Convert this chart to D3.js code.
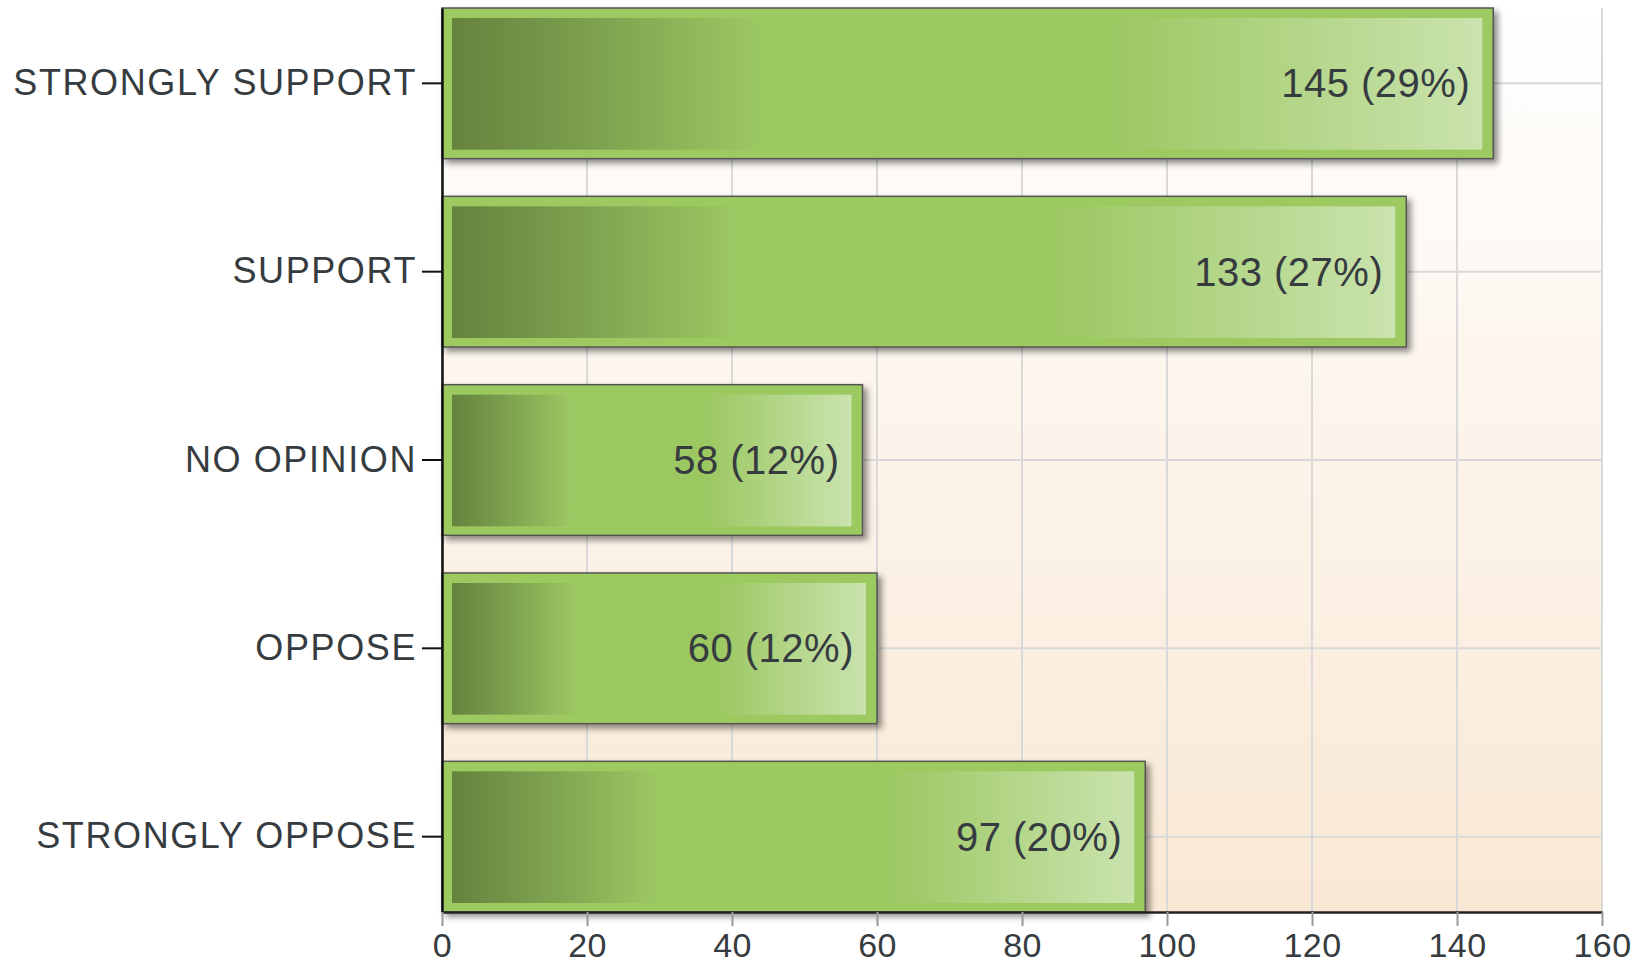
<!DOCTYPE html>
<html>
<head>
<meta charset="utf-8">
<script src="https://cdn.jsdelivr.net/npm/d3@7"></script>
<style>
  body { margin: 0; background: #fff; }
  text { font-family: "Liberation Sans", Arial, sans-serif; fill: #363b40; }
  .cat_label { font-size: 36px; letter-spacing: 1.6px; }
  .tick_label { font-size: 34px; letter-spacing: 0.4px; }
  .value_label { font-size: 40px; letter-spacing: 0.5px; }
</style>
</head>
<body>
<div id="chart"></div>
<script>
/////////////////////////////////////
///      DATA
/////////////////////////////////////
var categories = ["STRONGLY SUPPORT", "SUPPORT", "NO OPINION", "OPPOSE", "STRONGLY OPPOSE"];
var counts = [145, 133, 58, 60, 97];
var xTicks = [0, 20, 40, 60, 80, 100, 120, 140, 160];

var width = 1638, height = 972;
var margin = {top: 8, right: 36, bottom: 60, left: 442};
var total = d3.sum(counts);

/////////////////////////////////////
///      CHART
/////////////////////////////////////
var svg = d3.select("#chart").append("svg")
    .attr("width", width)
    .attr("height", height);

var x = d3.scaleLinear().domain([0, 160]).range([margin.left, width - margin.right]);
var y = d3.scaleBand().domain(categories)
    .range([margin.top, height - margin.bottom])
    .paddingInner(0.2).paddingOuter(0);

var defs = svg.append("defs");

var bg = defs.append("linearGradient").attr("id", "bg")
    .attr("x1", 0).attr("y1", 0).attr("x2", 0).attr("y2", 1);
bg.append("stop").attr("offset", "0%").attr("stop-color", "#ffffff");
bg.append("stop").attr("offset", "100%").attr("stop-color", "#f9e8d4");

var barGrad = defs.append("linearGradient").attr("id", "barGrad")
    .attr("x1", 0).attr("y1", 0).attr("x2", 1).attr("y2", 0);
barGrad.append("stop").attr("offset", "0%").attr("stop-color", "#65833d");
barGrad.append("stop").attr("offset", "12%").attr("stop-color", "#7a9d4d");
barGrad.append("stop").attr("offset", "30%").attr("stop-color", "#9cc862");
barGrad.append("stop").attr("offset", "64%").attr("stop-color", "#9cc862");
barGrad.append("stop").attr("offset", "100%").attr("stop-color", "#cae3ae");

var shadow = defs.append("filter").attr("id", "shadow")
    .attr("x", "-5%").attr("y", "-10%").attr("width", "115%").attr("height", "130%");
shadow.append("feDropShadow")
    .attr("dx", 4).attr("dy", 4).attr("stdDeviation", 3)
    .attr("flood-color", "#000").attr("flood-opacity", 0.45);

// plot background
svg.append("rect")
    .attr("x", x(0)).attr("y", margin.top)
    .attr("width", x(160) - x(0))
    .attr("height", y.range()[1] - margin.top)
    .attr("fill", "url(#bg)");

// grid lines
svg.append("g").selectAll("line").data(xTicks).enter().append("line")
    .attr("x1", d => x(d)).attr("x2", d => x(d))
    .attr("y1", margin.top).attr("y2", y.range()[1])
    .attr("stroke", "#d9d9d9").attr("stroke-width", 2);
svg.append("g").selectAll("line").data(categories).enter().append("line")
    .attr("x1", x(0)).attr("x2", x(160))
    .attr("y1", d => y(d) + y.bandwidth() / 2).attr("y2", d => y(d) + y.bandwidth() / 2)
    .attr("stroke", "#d9d9d9").attr("stroke-width", 2);

// bars
var bars = svg.append("g").selectAll("g").data(categories).enter().append("g");
bars.append("rect")
    .attr("x", x(0)).attr("y", d => y(d))
    .attr("width", (d, i) => x(counts[i]) - x(0))
    .attr("height", y.bandwidth())
    .attr("fill", "#9cca60")
    .attr("stroke", "#555").attr("stroke-width", 1.5)
    .attr("filter", "url(#shadow)");
bars.append("rect")
    .attr("x", x(0) + 10).attr("y", d => y(d) + 10)
    .attr("width", (d, i) => x(counts[i]) - x(0) - 21)
    .attr("height", y.bandwidth() - 19)
    .attr("fill", "url(#barGrad)");
bars.append("text")
    .attr("class", "value_label")
    .attr("x", (d, i) => x(counts[i]) - 23)
    .attr("y", d => y(d) + y.bandwidth() / 2)
    .attr("dy", "0.35em").attr("text-anchor", "end")
    .text((d, i) => counts[i] + " (" + Math.round(counts[i] / total * 100) + "%)");

// left axis
var yAxis = svg.append("g")
    .attr("transform", "translate(" + x(0) + ",0)")
    .call(d3.axisLeft(y).tickSize(20).tickSizeOuter(0).tickPadding(5));
yAxis.select(".domain").attr("stroke", "#111").attr("stroke-width", 2.5);
yAxis.selectAll(".tick line").attr("stroke", "#111").attr("stroke-width", 2);
yAxis.selectAll(".tick text").attr("class", "cat_label").attr("fill", null)
    .attr("font-family", null).attr("font-size", null);

// bottom axis
var xAxis = svg.append("g")
    .attr("transform", "translate(0," + y.range()[1] + ")")
    .call(d3.axisBottom(x).tickValues(xTicks).tickSize(14).tickPadding(7).tickSizeOuter(0));
xAxis.select(".domain").attr("stroke", "#222").attr("stroke-width", 2.5);
xAxis.selectAll(".tick line").attr("stroke", "#999").attr("stroke-width", 2);
xAxis.selectAll(".tick text").attr("class", "tick_label").attr("fill", null)
    .attr("font-family", null).attr("font-size", null);
</script>
</body>
</html>
